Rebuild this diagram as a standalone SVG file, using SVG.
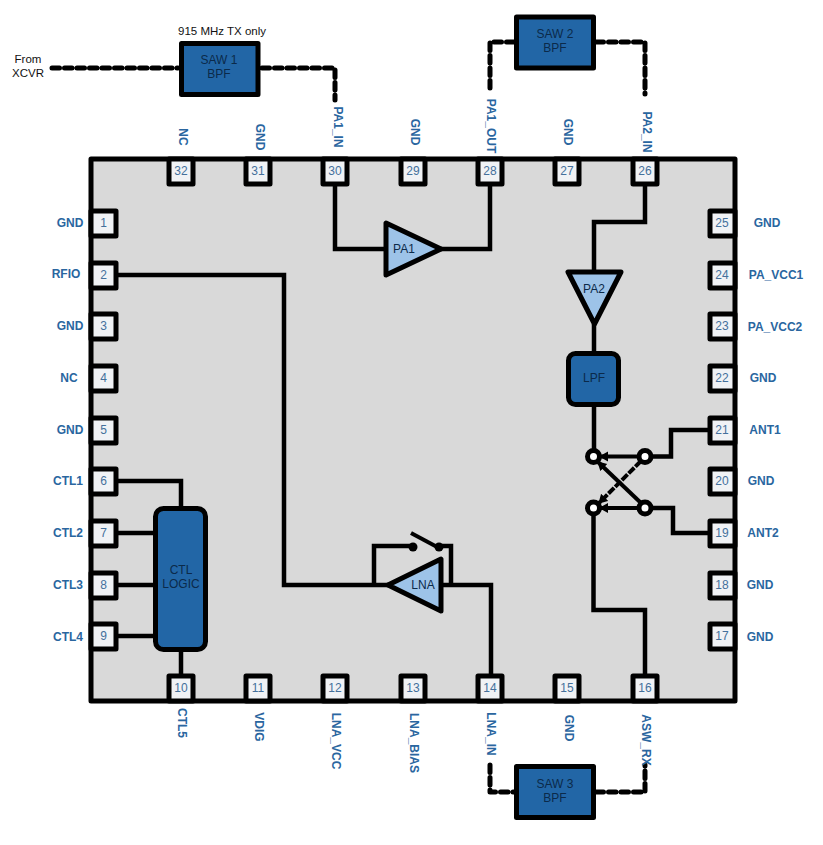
<svg xmlns="http://www.w3.org/2000/svg" width="823" height="845" viewBox="0 0 823 845">
<style>
text{font-family:"Liberation Sans",Arial,sans-serif;text-anchor:middle}
.lbl{font-size:12px;font-weight:bold;fill:#2a669f;dominant-baseline:central}
.num{font-size:12px;fill:#44709c;dominant-baseline:central}
.blk{font-size:12px;fill:#0b2a4a;dominant-baseline:central}
.cap{font-size:11.500px;fill:#111;dominant-baseline:central}
.pin{fill:#f0f2f5;stroke:#000;stroke-width:5;stroke-linejoin:round}
.box{fill:#2266a6;stroke:#000;stroke-width:5;stroke-linejoin:round}
.amp{fill:#9dc3e8;stroke:#000;stroke-width:5;stroke-linejoin:round}
.w{fill:none;stroke:#000;stroke-width:4.500;stroke-linejoin:miter}
.d{fill:none;stroke:#000;stroke-width:5;stroke-dasharray:7.500 5;stroke-linejoin:round;stroke-linecap:round}
.a{fill:none;stroke:#000;stroke-width:4;marker-end:url(#ah)}
.nd{fill:#fff;stroke:#000;stroke-width:5}
</style>
<defs><marker id="ah" markerUnits="userSpaceOnUse" markerWidth="12" markerHeight="12" refX="8" refY="5" orient="auto"><path d="M0 0L9 5L0 10Z" fill="#000"/></marker></defs>
<g id="chip"><rect x="91" y="159" width="644" height="542" fill="#d9d9d9" stroke="#000" stroke-width="5" stroke-linejoin="round"/></g>
<g id="connectors">
<path class="d" d="M52 68H178"/><path class="d" d="M262 68H335V100"/>
<path class="d" d="M514 42H490V90"/><path class="d" d="M596 42H645V94"/>
<path class="d" d="M490 765V792H514"/><path class="d" d="M596 792H645V765"/>
<path class="w" d="M335 184V249H386M441 249H490V184"/>
<path class="w" d="M645 184V222H594V272M594 324V351M594 407V450"/>
<path class="w" d="M116 275H284V585H388M374 585V546H413M439 546H451V585M441 585H491V675"/>
<path class="w" d="M116 481H181V508M116 533H155M116 585H155M116 636H155M181 650V675"/>
<path class="w" d="M651 456.500H671V430H710M651 508H673V533H710M593.500 514V610H645V675"/>
<path class="a" d="M638 456.500H600"/>
<path class="a" d="M638 508H600"/>
<path class="a" stroke-dasharray="8 1.500" d="M641 461L599 503"/>
<path class="a" d="M641 503L598 462"/>
<path d="M411 533L439 548" fill="none" stroke="#000" stroke-width="4"/>
</g>
<g id="n1"><rect class="pin" x="91" y="211" width="25" height="25"/><text class="num" x="103.500" y="223">1</text><text class="lbl" x="70" y="223">GND</text></g>
<g id="n2"><rect class="pin" x="91" y="263" width="25" height="25"/><text class="num" x="103.500" y="275">2</text><text class="lbl" x="66" y="274">RFIO</text></g>
<g id="n3"><rect class="pin" x="91" y="314" width="25" height="25"/><text class="num" x="103.500" y="326">3</text><text class="lbl" x="70" y="326">GND</text></g>
<g id="n4"><rect class="pin" x="91" y="366" width="25" height="25"/><text class="num" x="103.500" y="378">4</text><text class="lbl" x="69" y="378">NC</text></g>
<g id="n5"><rect class="pin" x="91" y="418" width="25" height="25"/><text class="num" x="103.500" y="430">5</text><text class="lbl" x="70" y="430">GND</text></g>
<g id="n6"><rect class="pin" x="91" y="469" width="25" height="25"/><text class="num" x="103.500" y="481">6</text><text class="lbl" x="68" y="481">CTL1</text></g>
<g id="n7"><rect class="pin" x="91" y="521" width="25" height="25"/><text class="num" x="103.500" y="533">7</text><text class="lbl" x="68" y="533">CTL2</text></g>
<g id="n8"><rect class="pin" x="91" y="573" width="25" height="25"/><text class="num" x="103.500" y="585">8</text><text class="lbl" x="68" y="585">CTL3</text></g>
<g id="n9"><rect class="pin" x="91" y="624" width="25" height="25"/><text class="num" x="103.500" y="636">9</text><text class="lbl" x="68" y="637">CTL4</text></g>
<g id="n10"><rect class="pin" x="169" y="676" width="24" height="25"/><text class="num" x="181" y="688">10</text><text class="lbl" transform="translate(182 723) rotate(90)">CTL5</text></g>
<g id="n11"><rect class="pin" x="246" y="676" width="24" height="25"/><text class="num" x="258" y="688">11</text><text class="lbl" transform="translate(259 727) rotate(90)">VDIG</text></g>
<g id="n12"><rect class="pin" x="323" y="676" width="24" height="25"/><text class="num" x="335" y="688">12</text><text class="lbl" transform="translate(336 741) rotate(90)">LNA_VCC</text></g>
<g id="n13"><rect class="pin" x="401" y="676" width="24" height="25"/><text class="num" x="413" y="688">13</text><text class="lbl" transform="translate(414 743) rotate(90)">LNA_BIAS</text></g>
<g id="n14"><rect class="pin" x="478" y="676" width="24" height="25"/><text class="num" x="490" y="688">14</text><text class="lbl" transform="translate(491 734) rotate(90)">LNA_IN</text></g>
<g id="n15"><rect class="pin" x="555" y="676" width="24" height="25"/><text class="num" x="567" y="688">15</text><text class="lbl" transform="translate(569 728) rotate(90)">GND</text></g>
<g id="n16"><rect class="pin" x="633" y="676" width="24" height="25"/><text class="num" x="645" y="688">16</text><text class="lbl" transform="translate(646 740) rotate(90)">ASW_RX</text></g>
<g id="n17"><rect class="pin" x="710" y="624" width="25" height="25"/><text class="num" x="722" y="636">17</text><text class="lbl" x="760" y="637">GND</text></g>
<g id="n18"><rect class="pin" x="710" y="573" width="25" height="25"/><text class="num" x="722" y="585">18</text><text class="lbl" x="760" y="585">GND</text></g>
<g id="n19"><rect class="pin" x="710" y="521" width="25" height="25"/><text class="num" x="722" y="533">19</text><text class="lbl" x="763" y="533">ANT2</text></g>
<g id="n20"><rect class="pin" x="710" y="469" width="25" height="25"/><text class="num" x="722" y="481">20</text><text class="lbl" x="761" y="481">GND</text></g>
<g id="n21"><rect class="pin" x="710" y="418" width="25" height="25"/><text class="num" x="722" y="430">21</text><text class="lbl" x="765" y="430">ANT1</text></g>
<g id="n22"><rect class="pin" x="710" y="366" width="25" height="25"/><text class="num" x="722" y="378">22</text><text class="lbl" x="763" y="378">GND</text></g>
<g id="n23"><rect class="pin" x="710" y="314" width="25" height="25"/><text class="num" x="722" y="326">23</text><text class="lbl" x="775" y="327">PA_VCC2</text></g>
<g id="n24"><rect class="pin" x="710" y="263" width="25" height="25"/><text class="num" x="722" y="275">24</text><text class="lbl" x="776" y="275">PA_VCC1</text></g>
<g id="n25"><rect class="pin" x="710" y="211" width="25" height="25"/><text class="num" x="722" y="223">25</text><text class="lbl" x="767" y="223">GND</text></g>
<g id="n26"><rect class="pin" x="633" y="159" width="24" height="25"/><text class="num" x="645" y="171">26</text><text class="lbl" transform="translate(647 132) rotate(90)">PA2_IN</text></g>
<g id="n27"><rect class="pin" x="555" y="159" width="24" height="25"/><text class="num" x="567" y="171">27</text><text class="lbl" transform="translate(568 132) rotate(90)">GND</text></g>
<g id="n28"><rect class="pin" x="478" y="159" width="24" height="25"/><text class="num" x="490" y="171">28</text><text class="lbl" transform="translate(491 126) rotate(90)">PA1_OUT</text></g>
<g id="n29"><rect class="pin" x="401" y="159" width="24" height="25"/><text class="num" x="413" y="171">29</text><text class="lbl" transform="translate(415 132) rotate(90)">GND</text></g>
<g id="n30"><rect class="pin" x="323" y="159" width="24" height="25"/><text class="num" x="335" y="171">30</text><text class="lbl" transform="translate(338 127) rotate(90)">PA1_IN</text></g>
<g id="n31"><rect class="pin" x="246" y="159" width="24" height="25"/><text class="num" x="258" y="171">31</text><text class="lbl" transform="translate(260 137) rotate(90)">GND</text></g>
<g id="n32"><rect class="pin" x="169" y="159" width="24" height="25"/><text class="num" x="181" y="171">32</text><text class="lbl" transform="translate(183 137) rotate(90)">NC</text></g>
<g id="saw1"><rect class="box" x="181.500" y="43.500" width="76.500" height="51"/><text class="blk" x="219" y="60">SAW 1</text><text class="blk" x="219" y="74">BPF</text></g>
<g id="saw2"><rect class="box" x="516.500" y="17" width="77" height="51"/><text class="blk" x="555" y="34">SAW 2</text><text class="blk" x="555" y="48">BPF</text></g>
<g id="saw3"><rect class="box" x="516.500" y="766.500" width="77" height="51"/><text class="blk" x="555" y="784">SAW 3</text><text class="blk" x="555" y="798">BPF</text></g>
<g id="pa1"><path class="amp" d="M386 223V275L441 249Z"/><text class="blk" x="404" y="249">PA1</text></g>
<g id="pa2"><path class="amp" d="M568 272H621L594.500 324Z"/><text class="blk" x="594" y="289">PA2</text></g>
<g id="lpf"><rect class="box" x="568.500" y="353.500" width="50" height="51" rx="7"/><text class="blk" x="594" y="378">LPF</text></g>
<g id="lna"><path class="amp" d="M441 559V611L388 585Z"/><text class="blk" x="423" y="585">LNA</text></g>
<g id="ctl-logic"><rect class="box" x="155.500" y="508.500" width="50" height="141" rx="8"/><text class="blk" x="181" y="570">CTL</text><text class="blk" x="181" y="584">LOGIC</text></g>
<g id="sw-a"><circle class="nd" cx="593.500" cy="456.500" r="6"/></g>
<g id="sw-b"><circle class="nd" cx="645" cy="456.500" r="6"/></g>
<g id="sw-c"><circle class="nd" cx="593.500" cy="508" r="6"/></g>
<g id="sw-d"><circle class="nd" cx="645" cy="508" r="6"/></g>
<g id="lna-sw-a"><circle cx="413" cy="547" r="4.500" fill="#000"/></g>
<g id="lna-sw-b"><circle cx="439" cy="547" r="4.500" fill="#000"/></g>
<text class="cap" x="222" y="31">915 MHz TX only</text>
<text class="cap" x="28" y="59">From</text>
<text class="cap" x="28" y="73">XCVR</text>
</svg>
